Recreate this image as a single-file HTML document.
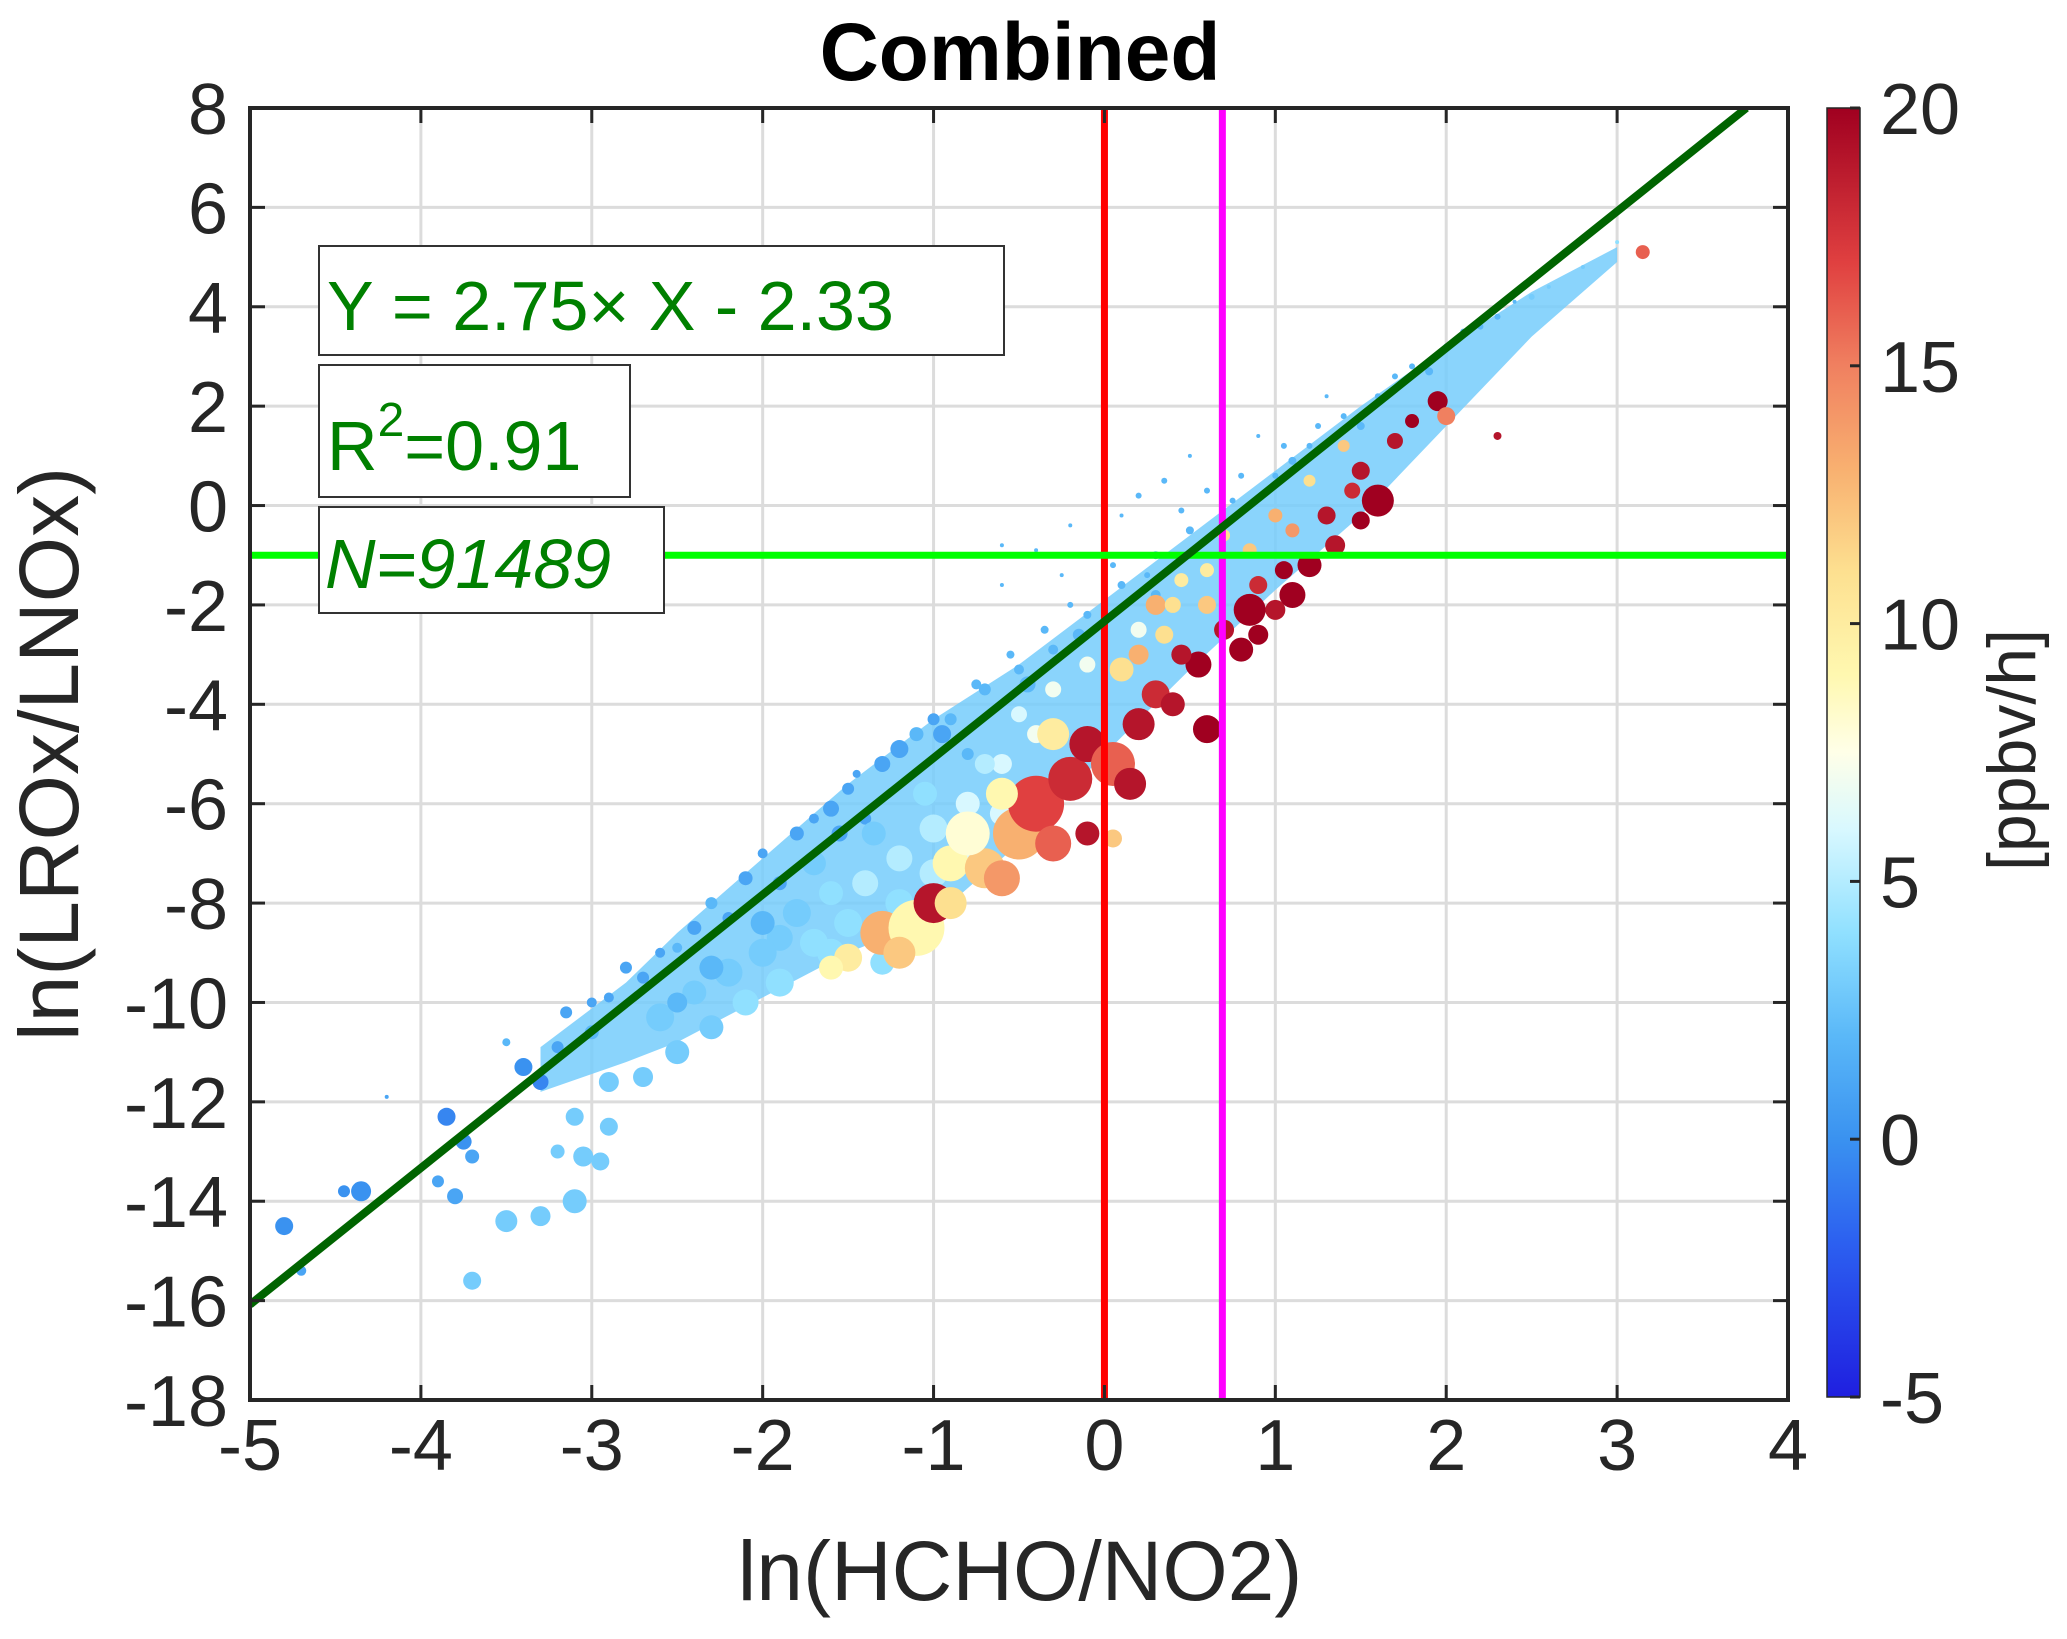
<!DOCTYPE html>
<html><head><meta charset="utf-8"><style>
body{margin:0;background:#fff}
svg{display:block;font-family:"Liberation Sans",sans-serif}
</style></head><body>
<svg id="chart" width="2067" height="1639" viewBox="0 0 2067 1639" xmlns="http://www.w3.org/2000/svg">
<defs>
<linearGradient id="cmap" x1="0" y1="1" x2="0" y2="0">
<stop offset="0" stop-color="#1f1fe0"/><stop offset="0.12" stop-color="#2c60f0"/><stop offset="0.2" stop-color="#3a92f0"/><stop offset="0.28" stop-color="#5ab8f8"/><stop offset="0.36" stop-color="#90e0ff"/><stop offset="0.44" stop-color="#d8f8ff"/><stop offset="0.5" stop-color="#ffffe8"/><stop offset="0.56" stop-color="#fff8b0"/><stop offset="0.64" stop-color="#fde090"/><stop offset="0.72" stop-color="#f8b070"/><stop offset="0.8" stop-color="#f08060"/><stop offset="0.88" stop-color="#e04040"/><stop offset="1" stop-color="#a00020"/>
</linearGradient>
<clipPath id="clip"><rect x="250" y="108" width="1538" height="1292"/></clipPath>
</defs>
<g id="grid"></g>
<g id="marks" clip-path="url(#clip)"></g>
<g id="axes"></g>
</svg>
<script>
const xTicks=[-5,-4,-3,-2,-1,0,1,2,3,4];
const yTicks=[-18,-16,-14,-12,-10,-8,-6,-4,-2,0,2,4,6,8];
const cTicks=[-5,0,5,10,15,20];
const fitSlope=2.75, fitIntercept=-2.33;
const vLineRed=0, vLineMagenta=0.69, hLineGreen=-1;
const bandX=[-3.3,-2.8,-2.5,-2,-1.5,-1,-0.5,0,0.5,1,1.5,2,2.5,3];
const bandUpper=[-10.9,-9.6,-8.6,-7.1,-5.6,-4.3,-3.2,-1.9,-0.6,0.7,2.0,3.2,4.3,5.2];
const bandLower=[-11.8,-11.2,-10.8,-9.9,-9.0,-8.3,-6.8,-5.0,-3.3,-1.7,-0.2,1.6,3.4,4.9];
const bandValue=3;
const ptsSmallBlue=[[-4.7,-15.4,5,1],[-4.8,-14.5,9,0],[-4.45,-13.8,6,0],[-4.35,-13.8,10,0],[-4.2,-11.9,2,1],[-3.9,-13.6,6,1],[-3.8,-13.9,8,1],[-3.85,-12.3,9,-0.5],[-3.75,-12.8,8,0],[-3.7,-13.1,7,1],[-3.5,-10.8,4,2],[-3.4,-11.3,9,0],[-3.3,-11.6,8,-0.5],[-3.2,-10.9,6,1],[-3.15,-10.2,6,1],[-3.0,-10.6,7,2],[-2.9,-9.9,5,1],[-2.7,-9.5,6,1],[-2.6,-9.0,5,1],[-2.4,-8.5,7,1],[-2.3,-8.0,6,2],[-2.1,-7.5,7,1],[-2.0,-7.0,5,1],[-1.8,-6.6,7,1],[-1.6,-6.1,8,1],[-1.5,-5.7,6,1],[-1.3,-5.2,8,1],[-1.1,-4.6,7,2],[-0.9,-4.3,6,2],[-0.7,-3.7,6,2],[-0.5,-3.3,5,2],[-0.3,-2.9,5,2],[-0.1,-2.2,4,2],[0.1,-1.6,4,2],[0.3,-1.0,4,2],[0.5,-0.5,4,2],[0.0,-0.7,3,2],[-0.4,-0.9,2,2],[-0.6,-1.6,2,2],[0.2,0.2,3,2],[0.6,0.3,3,2],[0.8,0.6,3,2],[1.0,0.6,3,2],[1.2,1.2,3,2],[1.4,1.8,3,2],[1.6,2.2,3,2],[1.8,2.8,3,2],[2.0,3.2,3,2],[2.2,3.6,3,2],[2.4,4.1,2,2],[2.6,4.4,2,3],[2.8,4.8,2,3],[3.0,5.3,2,4],[1.3,2.2,2,2],[0.9,1.4,2,2],[0.5,1.0,2,2],[-2.2,-8.3,6,1],[-1.9,-7.6,7,1],[-1.4,-6.3,6,1],[-0.8,-5.0,6,2],[0.3,-1.8,5,2],[0.7,-0.4,4,2],[1.1,0.9,4,2],[1.5,1.6,4,2],[1.9,2.7,4,2],[2.3,3.8,3,2],[-1.2,-4.9,9,1],[-1.0,-4.3,6,1],[-0.75,-3.6,5,2],[-0.55,-3.0,4,2],[-0.35,-2.5,4,2],[-0.2,-2.0,3,2],[-0.6,-0.8,2,2],[-0.2,-0.4,2,2],[0.1,-0.2,2,2],[0.35,0.5,3,2],[0.45,-0.1,3,2],[0.05,-1.2,3,2],[-0.25,-1.4,2,2],[0.25,-1.4,3,2],[0.75,0.1,3,2],[1.05,1.2,3,2],[1.25,1.6,3,2],[1.7,2.6,3,2],[2.1,3.5,3,2],[2.5,4.2,3,3],[-2.8,-9.3,6,1],[-3.0,-10.0,5,1],[-2.5,-8.9,5,2],[-1.7,-6.3,5,1],[-1.45,-5.4,4,1],[-1.55,-6.6,8,1],[-0.95,-4.6,9,1],[-0.45,-3.6,8,2],[-0.15,-2.6,6,2]];
const ptsLightBlue=[[-3.7,-15.6,9,3],[-3.5,-14.4,11,3],[-3.3,-14.3,10,3],[-3.1,-14.0,12,3],[-3.05,-13.1,10,3],[-2.95,-13.2,9,3],[-2.9,-12.5,9,3],[-3.2,-13.0,7,3],[-2.7,-11.5,10,3],[-2.5,-11.0,12,3],[-2.3,-10.5,12,3],[-2.1,-10.0,13,4],[-2.6,-10.3,14,3],[-2.2,-9.4,14,3],[-1.9,-9.6,14,4],[-1.7,-8.8,14,4],[-1.9,-8.7,13,3],[-1.5,-8.4,14,4],[-1.3,-9.2,12,4],[-1.4,-7.6,13,5],[-1.2,-7.1,13,5],[-1.0,-6.5,14,5],[-0.8,-6.0,12,6],[-0.6,-5.2,10,6],[-0.4,-4.6,9,7],[-2.4,-9.8,12,3],[-1.6,-7.8,12,4],[-2.0,-9.0,14,3],[-1.8,-8.2,14,3],[-1.6,-9.0,14,4],[-1.2,-8.0,14,4],[-1.0,-7.4,14,5],[-0.8,-7.0,14,6],[-0.6,-6.2,12,6],[-2.9,-11.6,10,3],[-3.1,-12.3,9,3],[-2.5,-10.0,10,2],[-2.3,-9.3,12,2],[-2.0,-8.4,12,2],[-1.7,-7.2,12,3],[-1.35,-6.6,12,3],[-1.05,-5.8,12,4],[-0.7,-5.2,10,5],[-0.5,-4.2,8,6],[-0.3,-3.7,8,7],[-0.1,-3.2,8,7],[0.2,-2.5,8,7]];
const ptsWarm=[[-1.5,-9.1,14,10],[-1.3,-8.6,22,13],[-1.1,-8.5,28,9],[-1.0,-8.0,20,19],[-0.9,-7.2,18,9],[-0.7,-7.3,20,12],[-0.5,-6.6,26,13],[-0.8,-6.6,22,8],[-0.4,-6.0,28,17],[-0.2,-5.5,22,18],[-0.1,-4.8,18,19],[0.05,-5.2,22,16],[0.2,-4.4,16,19],[0.3,-3.8,14,18],[-0.1,-6.6,12,19],[0.05,-6.7,9,12],[-0.3,-4.6,16,10],[0.1,-3.3,12,11],[0.35,-2.6,9,11],[0.6,-2.0,9,12],[0.6,-4.5,14,20],[0.55,-3.2,13,20],[0.8,-2.9,12,20],[0.85,-2.1,16,20],[1.0,-2.1,10,19],[1.1,-1.8,13,20],[1.2,-1.2,12,20],[1.35,-0.8,10,19],[1.5,-0.3,9,20],[1.6,0.1,16,20],[1.5,0.7,9,19],[1.7,1.3,8,19],[1.8,1.7,7,20],[1.95,2.1,10,20],[2.0,1.8,9,15],[1.4,1.2,6,12],[1.2,0.5,6,11],[1.0,-0.2,7,13],[0.7,-0.6,6,11],[0.45,-1.5,7,10],[3.15,5.1,7,16],[2.3,1.4,4,19],[0.3,-2.0,10,13],[-1.6,-9.3,12,9],[-1.2,-9.0,16,12],[-0.9,-8.0,16,11],[-0.6,-7.5,18,14],[-0.3,-6.8,18,16],[-0.6,-5.8,16,9],[0.15,-5.6,16,19],[0.4,-4.0,12,19],[0.45,-3.0,10,19],[0.7,-2.5,10,19],[0.9,-1.6,9,18],[1.3,-0.2,9,19],[1.45,0.3,8,18],[0.2,-3.0,10,13],[0.4,-2.0,8,11],[0.6,-1.3,7,10],[0.85,-0.9,7,12],[1.1,-0.5,7,14],[0.9,-2.6,10,20],[1.05,-1.3,9,20]];

const L=250,R=1788,T=108,B=1400;
const X=v=>L+(v+5)/9*(R-L);
const Y=v=>B-(v+18)/26*(B-T);
const CY=v=>1397-(v+5)/25*(1397-108);
const NS='http://www.w3.org/2000/svg';
function mk(tag,attrs,parent){const e=document.createElementNS(NS,tag);for(const k in attrs)e.setAttribute(k,attrs[k]);parent.appendChild(e);return e;}
const stops=[[-5,[31,31,224]],[-2,[44,96,240]],[0,[58,146,240]],[2,[90,184,248]],[4,[144,224,255]],[6,[216,248,255]],[7.5,[255,255,232]],[9,[255,248,176]],[11,[253,224,144]],[13,[248,176,112]],[15,[240,128,96]],[17,[224,64,64]],[20,[160,0,32]]];
function col(v){for(let i=1;i<stops.length;i++){if(v<=stops[i][0]){const a=stops[i-1],b=stops[i];const t=(v-a[0])/(b[0]-a[0]);const c=a[1].map((q,j)=>Math.round(q+(b[1][j]-q)*t));return `rgb(${c})`;}}return 'rgb(160,0,32)';}
const grid=document.getElementById('grid'),marks=document.getElementById('marks'),axes=document.getElementById('axes');
mk('rect',{x:L,y:T,width:R-L,height:B-T,fill:'#fff'},grid);
xTicks.forEach(t=>{const l=mk('line',{x1:X(t),x2:X(t),y1:T,y2:B,stroke:'#dcdcdc','stroke-width':3},grid);});
yTicks.forEach(t=>{const l=mk('line',{x1:L,x2:R,y1:Y(t),y2:Y(t),stroke:'#dcdcdc','stroke-width':3},grid);});
let d='';bandX.forEach((x,i)=>{d+=(i?'L':'M')+X(x)+','+Y(bandUpper[i]);});
for(let i=bandX.length-1;i>=0;i--)d+='L'+X(bandX[i])+','+Y(bandLower[i]);
const band=mk('path',{d:d+'Z',fill:col(bandValue),'fill-opacity':0.85},marks);


[ptsSmallBlue,ptsLightBlue,ptsWarm].forEach(arr=>arr.forEach(p=>{const c=mk('circle',{cx:X(p[0]),cy:Y(p[1]),r:p[2],fill:col(p[3])},marks);}));
let e;
e=mk('line',{x1:X(vLineRed),x2:X(vLineRed),y1:T,y2:B,stroke:'#ff0000','stroke-width':7},marks);
e=mk('line',{x1:X(vLineMagenta),x2:X(vLineMagenta),y1:T,y2:B,stroke:'#ff00ff','stroke-width':7},marks);
e=mk('line',{x1:L,x2:R,y1:Y(hLineGreen),y2:Y(hLineGreen),stroke:'#00ff00','stroke-width':7},marks);
e=mk('line',{x1:X(-5),y1:Y(fitSlope*-5+fitIntercept),x2:X((8-fitIntercept)/fitSlope),y2:Y(8),stroke:'#006400','stroke-width':8},marks);
e=mk('rect',{x:L,y:T,width:R-L,height:B-T,fill:'none',stroke:'#262626','stroke-width':4},axes);
xTicks.forEach(t=>{mk('line',{x1:X(t),x2:X(t),y1:B,y2:B-15,stroke:'#262626','stroke-width':3},axes);mk('line',{x1:X(t),x2:X(t),y1:T,y2:T+15,stroke:'#262626','stroke-width':3},axes);const s=mk('text',{x:X(t),y:1470,'text-anchor':'middle','font-size':72,fill:'#262626'},axes);s.textContent=t;});
yTicks.forEach(t=>{mk('line',{x1:L,x2:L+15,y1:Y(t),y2:Y(t),stroke:'#262626','stroke-width':3},axes);mk('line',{x1:R,x2:R-15,y1:Y(t),y2:Y(t),stroke:'#262626','stroke-width':3},axes);const s=mk('text',{x:228,y:Y(t)+26,'text-anchor':'end','font-size':72,fill:'#262626'},axes);s.textContent=t;});
e=mk('rect',{x:1827,y:108,width:33,height:1289,fill:'url(#cmap)',stroke:'#262626','stroke-width':1.5},axes);
cTicks.forEach(t=>{mk('line',{x1:1860,x2:1850,y1:CY(t),y2:CY(t),stroke:'#262626','stroke-width':3},axes);const s=mk('text',{x:1880,y:CY(t)+26,'font-size':72,fill:'#262626'},axes);s.textContent=t;});
</script>
<svg style="position:absolute;left:0;top:0" width="2067" height="1639" xmlns="http://www.w3.org/2000/svg" font-family="Liberation Sans, sans-serif">
<text x="1020" y="80" text-anchor="middle" font-size="82" font-weight="bold" fill="#000">Combined</text>
<text x="1020" y="1600" text-anchor="middle" font-size="84" fill="#262626">ln(HCHO/NO2)</text>
<text transform="translate(78,754) rotate(-90)" text-anchor="middle" font-size="84" fill="#262626">ln(LROx/LNOx)</text>
<text transform="translate(2035,750) rotate(-90)" text-anchor="middle" font-size="68" fill="#262626">[ppbv/h]</text>
<g><rect x="319" y="246" width="685" height="109" fill="#fff" stroke="#333" stroke-width="2"/><text x="327" y="330" font-size="70" fill="#008000">Y = 2.75× X - 2.33</text></g>
<g><rect x="319" y="365" width="311" height="132" fill="#fff" stroke="#333" stroke-width="2"/><text x="327" y="470" font-size="70" fill="#008000">R<tspan dy="-34" font-size="48">2</tspan><tspan dy="34">=0.91</tspan></text></g>
<g><rect x="319" y="507" width="345" height="106" fill="#fff" stroke="#333" stroke-width="2"/><text x="325" y="588" font-size="70" font-style="italic" fill="#008000">N=91489</text></g>
</svg>
</body></html>
